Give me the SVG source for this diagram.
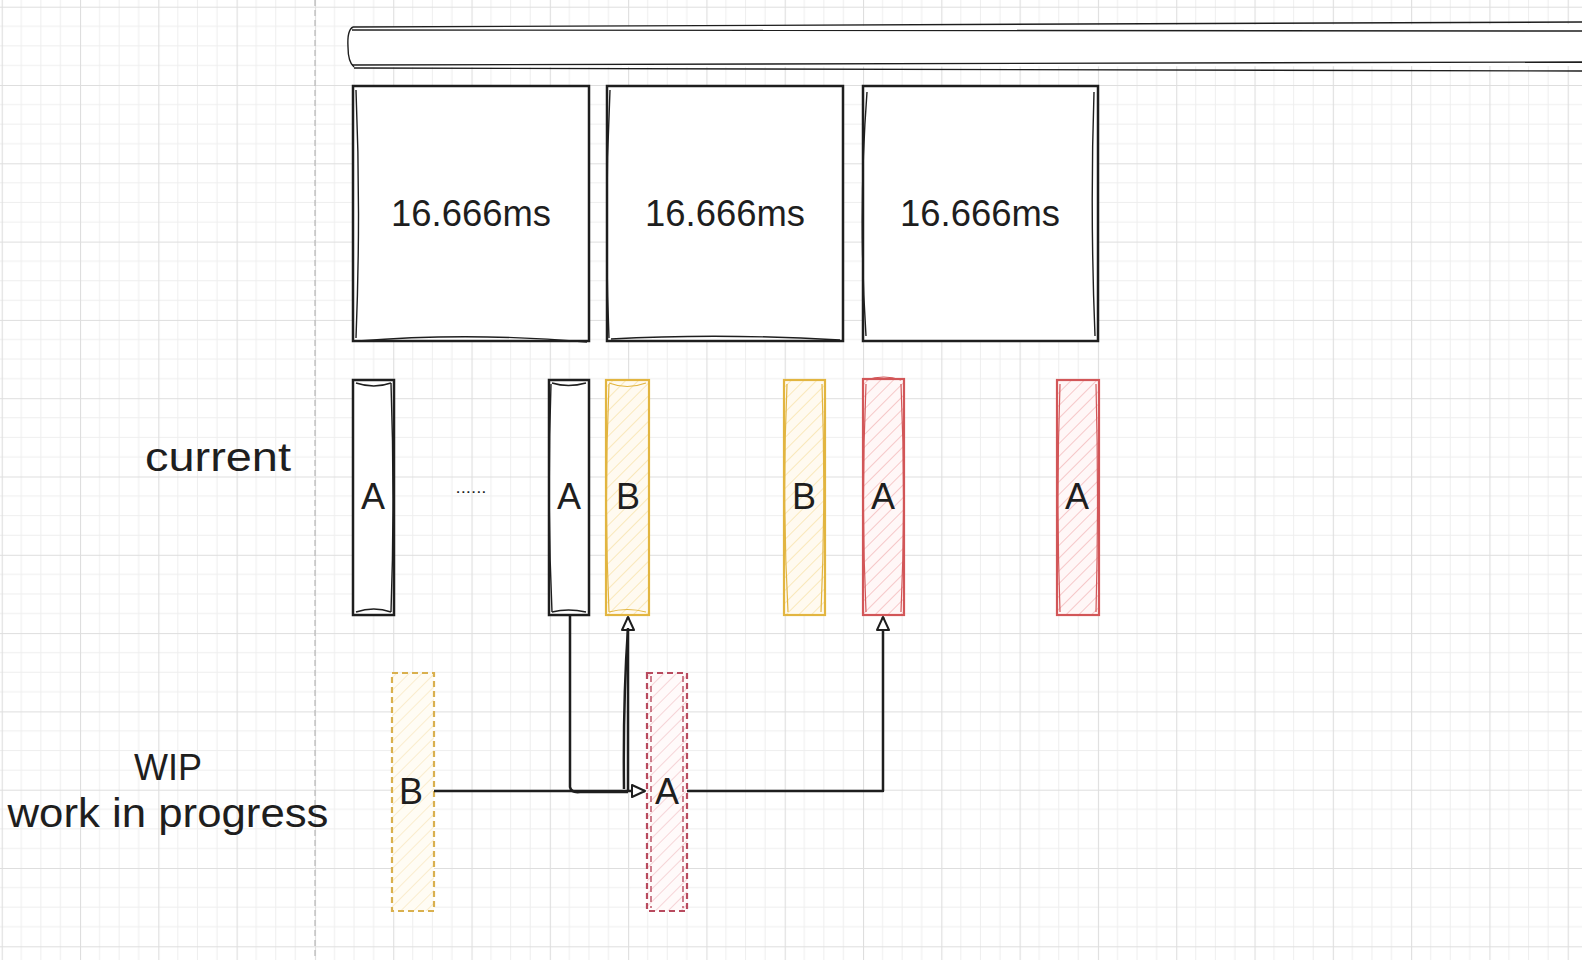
<svg xmlns="http://www.w3.org/2000/svg" width="1582" height="960" viewBox="0 0 1582 960">
<style>
.txt{font-family:"Liberation Sans","DejaVu Sans",sans-serif;fill:#1e1e1e}
.box{fill:#ffffff;stroke:#1e1e1e;stroke-width:2.5}
.sk{fill:none;stroke:#1e1e1e;stroke-width:1.4}
.yel{fill:url(#hy);stroke:#e2b540;stroke-width:2.2}
.yelsk{fill:none;stroke:#e2b540;stroke-width:1.2}
.red{fill:url(#hr);stroke:#d25658;stroke-width:2.2}
.redsk{fill:none;stroke:#d25658;stroke-width:1.2}
.wy{fill:url(#hwy);stroke:#d9b04e;stroke-width:2.2;stroke-dasharray:6 4}
.wr{fill:url(#hwr);stroke:#b84a5e;stroke-width:2.2;stroke-dasharray:6 4}
.con{fill:none;stroke:#1e1e1e;stroke-width:2.5;stroke-linejoin:round}
.lbl{font-size:36px;text-anchor:middle}
</style>
<defs>
<pattern id="grid" x="1.7" y="6.7" width="78.3" height="78.3" patternUnits="userSpaceOnUse">
<path d="M19.6 0V78.3M39.15 0V78.3M58.7 0V78.3M0 19.6H78.3M0 39.15H78.3M0 58.7H78.3" stroke="#eeeeee" stroke-width="1" fill="none"/>
<path d="M0.5 0V78.3M0 0.5H78.3" stroke="#dedede" stroke-width="1.2" fill="none"/>
</pattern>
<pattern id="hy" width="9" height="9" patternUnits="userSpaceOnUse" patternTransform="rotate(45)">
<rect width="9" height="9" fill="#fffaf0"/>
<path d="M0 0V9" stroke="#f6dc98" stroke-width="1.2"/>
</pattern>
<pattern id="hr" width="9" height="9" patternUnits="userSpaceOnUse" patternTransform="rotate(45)">
<rect width="9" height="9" fill="#fff7f7"/>
<path d="M0 0V9" stroke="#f0a9aa" stroke-width="1.2"/>
</pattern>
<pattern id="hwy" width="9" height="9" patternUnits="userSpaceOnUse" patternTransform="rotate(45)">
<rect width="9" height="9" fill="#fffcf4"/>
<path d="M0 0V9" stroke="#f7e4b4" stroke-width="1.2"/>
</pattern>
<pattern id="hwr" width="9" height="9" patternUnits="userSpaceOnUse" patternTransform="rotate(45)">
<rect width="9" height="9" fill="#fffafa"/>
<path d="M0 0V9" stroke="#f0bcc2" stroke-width="1.2"/>
</pattern>
<marker id="arr" viewBox="0 0 16 16" refX="14.5" refY="8" markerWidth="16" markerHeight="16" markerUnits="userSpaceOnUse" orient="auto">
<path d="M1.5 2L14.5 8L1.5 14Z" fill="#ffffff" stroke="#1e1e1e" stroke-width="2" stroke-linejoin="round"/>
</marker>
</defs>
<rect width="1582" height="960" fill="#ffffff"/>
<rect width="1582" height="960" fill="url(#grid)"/>
<line x1="315" y1="0" x2="315" y2="960" stroke="#b8b8b8" stroke-width="1.2" stroke-dasharray="6 4"/>

<g id="timeline-bar">
<path d="M360 27 L1582 24 L1582 66 L358 67 Q349 66 349 58 L349 36 Q350 27 360 27Z" fill="#ffffff" stroke="none"/>
<path class="sk" d="M353 27 Q700 24 1582 22" stroke-width="2.4"/>
<path class="sk" d="M352 30 Q900 29 1582 31" stroke-width="1.7"/>
<path class="sk" d="M352 65 Q900 63 1582 62" stroke-width="1.7"/>
<path class="sk" d="M354 68 Q900 69 1582 71" stroke-width="2.4"/>
<path class="sk" d="M353 27 Q347 30 348 47 Q348 62 354 67" stroke-width="2.4"/>
</g>

<g id="frame-1">
<rect class="box" x="353" y="86" width="236" height="255"/>
<path class="sk" d="M356 90 Q361 213 356 338"/>
<path class="sk" d="M358 341 Q470 332 587 342"/>
<text class="txt" x="471" y="226" font-size="36" text-anchor="middle" textLength="160" lengthAdjust="spacingAndGlyphs">16.666ms</text>
</g>
<g id="frame-2">
<rect class="box" x="607" y="86" width="236" height="255"/>
<path class="sk" d="M610 90 Q604 213 609 338"/>
<path class="sk" d="M611 339 Q720 333 840 340"/>
<text class="txt" x="725" y="226" font-size="36" text-anchor="middle" textLength="160" lengthAdjust="spacingAndGlyphs">16.666ms</text>
</g>
<g id="frame-3">
<rect class="box" x="863" y="86" width="235" height="255"/>
<path class="sk" d="M867 92 Q858 213 866 336"/>
<path class="sk" d="M1094 92 Q1090 213 1095 336"/>
<text class="txt" x="980" y="226" font-size="36" text-anchor="middle" textLength="160" lengthAdjust="spacingAndGlyphs">16.666ms</text>
</g>

<text id="label-current" class="txt" x="218" y="471" font-size="40" text-anchor="middle" textLength="146" lengthAdjust="spacingAndGlyphs">current</text>

<g id="current-A1">
<rect class="box" x="353" y="380" width="41" height="235"/>
<path class="sk" d="M356 383 Q374 389 391 383"/>
<path class="sk" d="M356 612 Q374 606 391 612"/>
<path class="sk" d="M391 383 Q395 500 391 612"/>
<text class="txt lbl" x="373" y="509">A</text>
</g>
<text id="ellipsis" class="txt" x="471" y="493" font-size="16" text-anchor="middle" textLength="31" lengthAdjust="spacingAndGlyphs">......</text>
<g id="current-A2">
<rect class="box" x="549" y="380" width="40" height="235"/>
<path class="sk" d="M552 383 Q568 388 586 383"/>
<path class="sk" d="M552 612 Q568 608 586 612"/>
<path class="sk" d="M551 384 Q547 500 552 612"/>
<text class="txt lbl" x="569" y="509">A</text>
</g>
<g id="current-B1">
<rect class="yel" x="606" y="380" width="43" height="235"/>
<path class="yelsk" d="M609 383 Q627 390 646 383"/>
<path class="yelsk" d="M609 612 Q627 607 646 612"/>
<path class="yelsk" d="M609 384 Q604 500 609 612"/>
<text class="txt lbl" x="628" y="509">B</text>
</g>
<g id="current-B2">
<rect class="yel" x="784" y="380" width="41" height="235"/>
<path class="yelsk" d="M787 384 Q782 500 788 612"/>
<path class="yelsk" d="M822 384 Q826 500 821 612"/>
<text class="txt lbl" x="804" y="509">B</text>
</g>
<g id="current-A3">
<rect class="red" x="863" y="379" width="41" height="236"/>
<path class="redsk" d="M866 380 Q884 374 901 380"/>
<path class="redsk" d="M866 384 Q861 500 866 612"/>
<path class="redsk" d="M901 384 Q906 500 901 612"/>
<text class="txt lbl" x="883" y="509">A</text>
</g>
<g id="current-A4">
<rect class="red" x="1057" y="380" width="42" height="235"/>
<path class="redsk" d="M1060 384 Q1056 500 1060 612"/>
<path class="redsk" d="M1096 384 Q1099 500 1096 612"/>
<text class="txt lbl" x="1077" y="509">A</text>
</g>

<g id="label-wip">
<text class="txt" x="168" y="780" font-size="36" text-anchor="middle" textLength="68" lengthAdjust="spacingAndGlyphs">WIP</text>
<text class="txt" x="168" y="827" font-size="40" text-anchor="middle" textLength="321" lengthAdjust="spacingAndGlyphs">work in progress</text>
</g>

<g id="wip-B">
<rect class="wy" x="392" y="673" width="42" height="238"/>
<text class="txt lbl" x="411" y="804">B</text>
</g>
<g id="wip-A">
<rect class="wr" x="647" y="673" width="40" height="238"/>
<path d="M651 676 V908" fill="none" stroke="#b84a5e" stroke-width="1.4" stroke-dasharray="6 4"/>
<path d="M683 676 V908" fill="none" stroke="#b84a5e" stroke-width="1.4" stroke-dasharray="6 4"/>
<text class="txt lbl" x="667" y="804">A</text>
</g>

<g id="connectors">
<path class="con" d="M434 791 L645 791" marker-end="url(#arr)"/>
<path class="con" d="M570 615 L570 787 Q571 793 580 792 L628 792"/>
<path class="con" d="M628 791 L628 617" marker-end="url(#arr)"/>
<path class="con" d="M624 789 Q623 700 628 628" stroke-width="1.4"/>
<path class="con" d="M687 791 L883 791 L883 617" marker-end="url(#arr)"/>
</g>
</svg>
